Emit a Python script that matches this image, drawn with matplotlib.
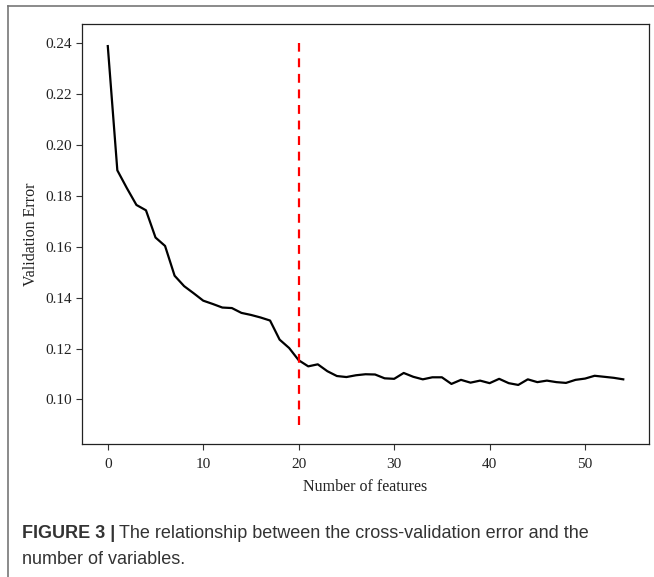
import matplotlib.pyplot as plt
from matplotlib.lines import Line2D

# число признаков и ошибка на кросс-валидации
n_features = list(range(55))
val_error = [0.2388, 0.1900, 0.1830, 0.1764, 0.1743, 0.1636, 0.1603, 0.1486, 0.1445, 0.1417,
             0.1388, 0.1375, 0.1361, 0.1359, 0.1340, 0.1332, 0.1322, 0.1310, 0.1235, 0.1202,
             0.1154, 0.1130, 0.1138, 0.1111, 0.1092, 0.1088, 0.1095, 0.1099, 0.1098, 0.1083,
             0.1081, 0.1104, 0.1089, 0.1079, 0.1087, 0.1087, 0.1061, 0.1077, 0.1066, 0.1074,
             0.1064, 0.1081, 0.1064, 0.1057, 0.1079, 0.1068, 0.1074, 0.1068, 0.1065, 0.1077,
             0.1082, 0.1093, 0.1089, 0.1085, 0.1079]
best_n = 20
vline_lo, vline_hi = 0.09, 0.24
y_ticks = [0.10, 0.12, 0.14, 0.16, 0.18, 0.20, 0.22, 0.24]

fig = plt.figure(figsize=(6.54, 5.77), dpi=100)
ax = fig.add_axes([0.1254, 0.2305, 0.867, 0.728])

ax.plot(n_features, val_error, color='black', linewidth=1.6)
ax.vlines(best_n, vline_lo, vline_hi, colors='red', linestyles=(0, (4, 3)), linewidth=1.6)

ax.set_yticks(y_ticks)
ax.set_yticklabels([f'{v:.2f}' for v in y_ticks])
ax.set_xticks([0, 10, 20, 30, 40, 50])
for lab in ax.get_xticklabels() + ax.get_yticklabels():
    lab.set_fontfamily('Liberation Serif')
    lab.set_fontsize(11)
    lab.set_color('#222222')
ax.tick_params(length=4, width=0.8, color='#333333')
ax.tick_params(axis='x', pad=6)
ax.set_xlabel('Number of features', fontfamily='Liberation Serif', fontsize=11.5,
              color='#222222', labelpad=6)
ax.set_ylabel('Validation Error', fontfamily='Liberation Serif', fontsize=11.5, color='#222222')
for s in ax.spines.values():
    s.set_linewidth(0.9)
    s.set_color('#222222')

# рамка вокруг рисунка (только сверху и слева)
W, H = 654, 577
fig.add_artist(Line2D([8 / W, 1], [1 - 6 / H, 1 - 6 / H], color='#777777', linewidth=1.2))
fig.add_artist(Line2D([8 / W, 8 / W], [0, 1 - 6 / H], color='#777777', linewidth=1.2))

# подпись
cap_size = 13
bold = fig.text(22 / W, 1 - 533 / H, 'FIGURE 3 |', fontfamily='Liberation Sans', fontweight='bold',
                fontsize=cap_size, color='#333333', va='center')
fig.canvas.draw()
bb = bold.get_window_extent()
fig.text((bb.x1 + 4) / W, 1 - 533 / H, 'The relationship between the cross-validation error and the',
         fontfamily='Liberation Sans', fontsize=cap_size, color='#333333', va='center')
fig.text(22 / W, 1 - 560 / H, 'number of variables.', fontfamily='Liberation Sans',
         fontsize=cap_size, color='#333333', va='center')

fig.savefig('out.png', dpi=100)
